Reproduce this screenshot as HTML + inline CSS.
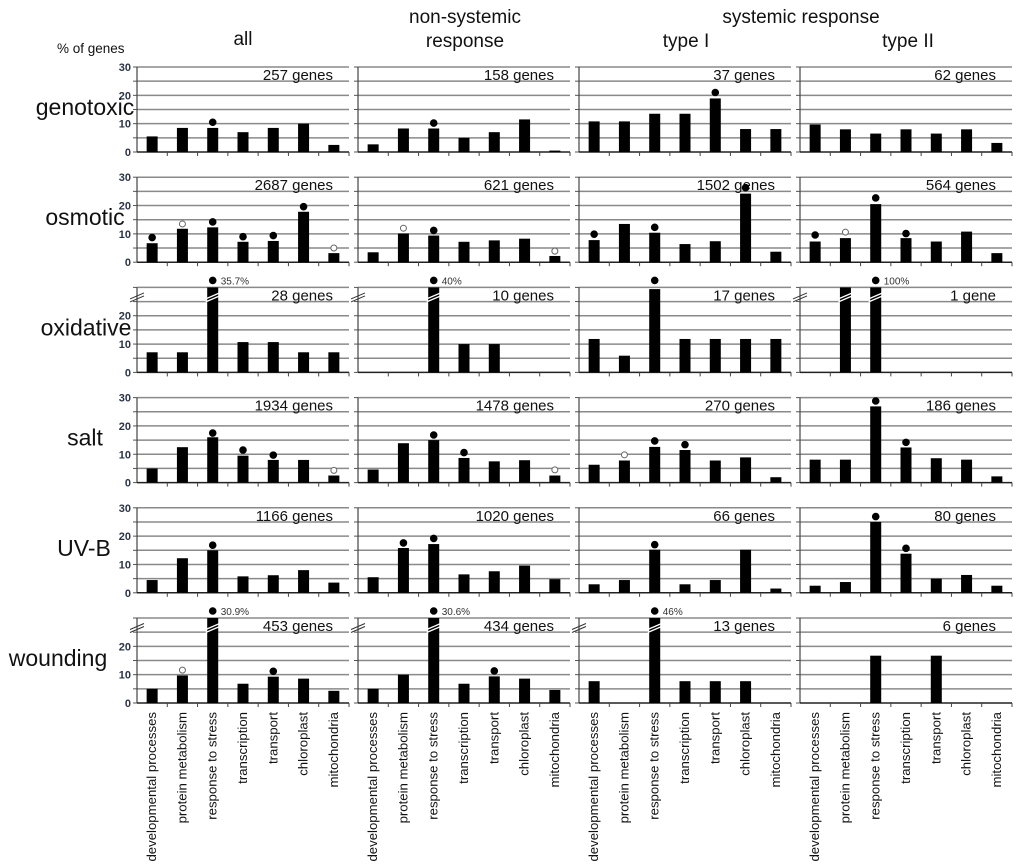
<!DOCTYPE html>
<html><head><meta charset="utf-8"><style>
body{margin:0;background:#fff;}
svg{display:block;font-family:"Liberation Sans",Arial,sans-serif;}
</style></head><body>
<svg id="chart" width="1024" height="866" viewBox="0 0 1024 866" xmlns="http://www.w3.org/2000/svg">
<text x="57" y="53" font-size="13.5" fill="#111">% of genes</text>
<text x="243" y="45" font-size="19" text-anchor="middle" fill="#111">all</text>
<text x="465" y="23" font-size="19" text-anchor="middle" fill="#111">non-systemic</text>
<text x="465" y="47" font-size="19" text-anchor="middle" fill="#111">response</text>
<text x="801" y="23" font-size="19" text-anchor="middle" fill="#111">systemic response</text>
<text x="686" y="47" font-size="19" text-anchor="middle" fill="#111">type I</text>
<text x="908" y="47" font-size="19" text-anchor="middle" fill="#111">type II</text>
<g id="plots"></g>
</svg>
<script>
const categories=["developmental processes","protein metabolism","response to stress","transcription","transport","chloroplast","mitochondria"];
const rowLabels=["genotoxic","osmotic","oxidative","salt","UV-B","wounding"];
const yTicks=[0,10,20,30];
const brokenTicks=[0,10,20];
const geneCounts=[
["257 genes","158 genes","37 genes","62 genes"],
["2687 genes","621 genes","1502 genes","564 genes"],
["28 genes","10 genes","17 genes","1 gene"],
["1934 genes","1478 genes","270 genes","186 genes"],
["1166 genes","1020 genes","66 genes","80 genes"],
["453 genes","434 genes","13 genes","6 genes"]];
const genotoxicVals=[[5.5,8.5,8.5,7,8.5,10,2.5],[2.7,8.3,8.3,5,7,11.5,0.5],[10.8,10.8,13.5,13.5,18.9,8.1,8.1],[9.7,8,6.5,8,6.5,8,3.2]];
const osmoticVals=[[6.7,11.8,12.3,7.2,7.5,17.8,3.2],[3.5,10.1,9.4,7.2,7.7,8.3,2.2],[7.8,13.5,10.4,6.4,7.4,24.2,3.7],[7.3,8.5,20.5,8.5,7.3,10.8,3.2]];
const oxidativeVals=[[7.1,7.1,35.7,10.7,10.7,7.1,7.1],[0,0,40,10,10,0,0],[11.8,5.9,29.4,11.8,11.8,11.8,11.8],[0,100,100,0,0,0,0]];
const saltVals=[[5,12.5,16,9.5,8,8,2.5],[4.6,13.9,15,8.7,7.5,7.9,2.5],[6.3,7.8,12.6,11.5,7.8,8.9,1.9],[8.1,8.1,26.9,12.4,8.6,8.1,2.2]];
const uvbVals=[[4.5,12.2,15,5.8,6.2,8,3.6],[5.5,15.8,17.2,6.5,7.6,9.6,4.8],[3,4.5,15.2,3,4.5,15.2,1.5],[2.5,3.8,25,13.8,5,6.3,2.5]];
const woundingVals=[[5,9.7,30.9,6.8,9.3,8.6,4.3],[5,10,30.6,6.8,9.4,8.6,4.6],[7.7,0,46,7.7,7.7,7.7,0],[0,0,16.7,0,16.7,0,0]];
const allVals=[genotoxicVals,osmoticVals,oxidativeVals,saltVals,uvbVals,woundingVals];
// markers: [row,col,category,value,filled]
const markers=[
[0,0,2,10.5,1],[0,1,2,10.2,1],[0,2,4,21,1],
[1,0,0,8.7,1],[1,0,1,13.5,0],[1,0,2,14.2,1],[1,0,3,9,1],[1,0,4,9.4,1],[1,0,5,19.6,1],[1,0,6,5,0],
[1,1,1,12,0],[1,1,2,11.2,1],[1,1,6,3.9,0],
[1,2,0,9.9,1],[1,2,2,12.3,1],[1,2,5,26.3,1],
[1,3,0,9.6,1],[1,3,1,10.6,0],[1,3,2,22.7,1],[1,3,3,10.1,1],
[2,0,2,35.7,1],[2,1,2,40,1],[2,2,2,31.5,1],[2,3,2,100,1],
[3,0,2,17.5,1],[3,0,3,11.5,1],[3,0,4,9.7,1],[3,0,6,4.3,0],
[3,1,2,16.8,1],[3,1,3,10.6,1],[3,1,6,4.5,0],
[3,2,1,9.8,0],[3,2,2,14.7,1],[3,2,3,13.4,1],
[3,3,2,28.8,1],[3,3,3,14.2,1],
[4,0,2,16.8,1],[4,1,1,17.6,1],[4,1,2,19.2,1],[4,2,2,17,1],[4,3,2,26.9,1],[4,3,3,15.7,1],
[5,0,1,11.6,0],[5,0,2,30.9,1],[5,0,4,11.2,1],[5,1,2,30.6,1],[5,1,4,11.3,1],[5,2,2,46,1]];
const pctLabels=[[2,0,"35.7%"],[2,1,"40%"],[2,3,"100%"],[5,0,"30.9%"],[5,1,"30.6%"],[5,2,"46%"]];
const brokenPanels=[[2,0],[2,1],[2,3],[5,0],[5,1],[5,2]];

const NS="http://www.w3.org/2000/svg";
const g=document.getElementById('plots');
function mk(t,a,p){const e=document.createElementNS(NS,t);for(const k in a)e.setAttribute(k,a[k]);(p||g).appendChild(e);return e;}
const panelLeft=c=>137+c*221;
const PW=212, PH=85;
const zeroY=r=>152+r*110.2;
const yScale=(r,v)=>zeroY(r)-Math.min(v,30)*PH/30;
const xCenter=(c,i)=>panelLeft(c)+PW/7*(i+0.5);
const isBroken=(r,c)=>brokenPanels.some(b=>b[0]===r&&b[1]===c);
const labelX=[85,85,86,85,84,58];

for(let r=0;r<6;r++){
  const lab=mk('text',{x:labelX[r],y:zeroY(r)-37,'font-size':23,'text-anchor':'middle',fill:'#111'});
  
  
  lab.textContent=rowLabels[r];
  const rowBroken=[0,1,2,3].some(c=>isBroken(r,c));
  const tk=rowBroken?brokenTicks:yTicks;
  tk.forEach(t=>{
    const tl=mk('text',{x:131,y:yScale(r,t)+4,'font-size':11,'text-anchor':'end',fill:'#2b3445','font-weight':'bold'});
    
    
    tl.textContent=t;
  });
  for(let c=0;c<4;c++){
    const x0=panelLeft(c);
    const pg=mk('g',{});
    
    
    for(let v=5;v<=30;v+=5){
      const y=yScale(r,v);
      const gl=mk('line',{x1:x0,x2:x0+PW,y1:y,y2:y,stroke:'#8a8a8a','stroke-width':1.5},pg);
      
      
      mk('line',{x1:x0-4,x2:x0,y1:y,y2:y,stroke:'#555','stroke-width':1},pg);
    }
    mk('line',{x1:x0-4,x2:x0,y1:zeroY(r),y2:zeroY(r),stroke:'#555','stroke-width':1},pg);
    const ax=mk('line',{x1:x0,x2:x0,y1:yScale(r,30),y2:zeroY(r),stroke:'#444','stroke-width':1.2},pg);
    
    
    const bx=mk('line',{x1:x0,x2:x0+PW,y1:zeroY(r),y2:zeroY(r),stroke:'#222','stroke-width':1.5},pg);
    
    
    for(let i=1;i<=7;i++){const tx=x0+PW/7*i;mk('line',{x1:tx,x2:tx,y1:zeroY(r),y2:zeroY(r)+4,stroke:'#444','stroke-width':1},pg);}
    const vals=allVals[r][c];
    vals.forEach((v,i)=>{
      if(v<=0)return;
      const yt=yScale(r,v);
      const b=mk('rect',{x:xCenter(c,i)-5.5,y:yt,width:11,height:zeroY(r)-yt,fill:'#000'},pg);
      
      
      if(v>30){
        const cx=xCenter(c,i),yb=yScale(r,27);
        mk('line',{x1:cx-7,x2:cx+7,y1:yb+3,y2:yb-3,stroke:'#fff','stroke-width':1.3},pg);
        mk('line',{x1:cx-7,x2:cx+7,y1:yb+6,y2:yb,stroke:'#fff','stroke-width':1.3},pg);
      }
    });
    if(isBroken(r,c)){
      const yb=yScale(r,27);
      mk('line',{x1:x0-7,x2:x0+7,y1:yb+3,y2:yb-3,stroke:'#333','stroke-width':1},pg);
      mk('line',{x1:x0-7,x2:x0+7,y1:yb+6,y2:yb,stroke:'#333','stroke-width':1},pg);
    }
    const gc=mk('text',{x:x0+PW-16,y:yScale(r,30)+13,'font-size':15,'text-anchor':'end',fill:'#111'},pg);
    
    
    gc.textContent=geneCounts[r][c];
  }
}
markers.forEach(m=>{
  const [r,c,i,v,f]=m;
  const y=v>30?yScale(r,30)-7:yScale(r,v);
  const d=mk('circle',{cx:xCenter(c,i),cy:y,r:f?3.3:3,fill:f?'#000':'#fff',stroke:f?'#000':'#666','stroke-width':1});
  
  
});
pctLabels.forEach(p=>{
  const [r,c,t]=p;
  const tl=mk('text',{x:xCenter(c,2)+8,y:yScale(r,30)-3,'font-size':10,fill:'#333'});
  
  
  tl.textContent=t;
});
for(let c=0;c<4;c++){
  categories.forEach((cat,i)=>{
    const x=xCenter(c,i)+4;
    const t=mk('text',{x:x,y:712,'font-size':13.2,'text-anchor':'end',fill:'#111',transform:'rotate(-90 '+x+' 712)'});
    
    
    t.textContent=cat;
  });
}
</script>
</body></html>
